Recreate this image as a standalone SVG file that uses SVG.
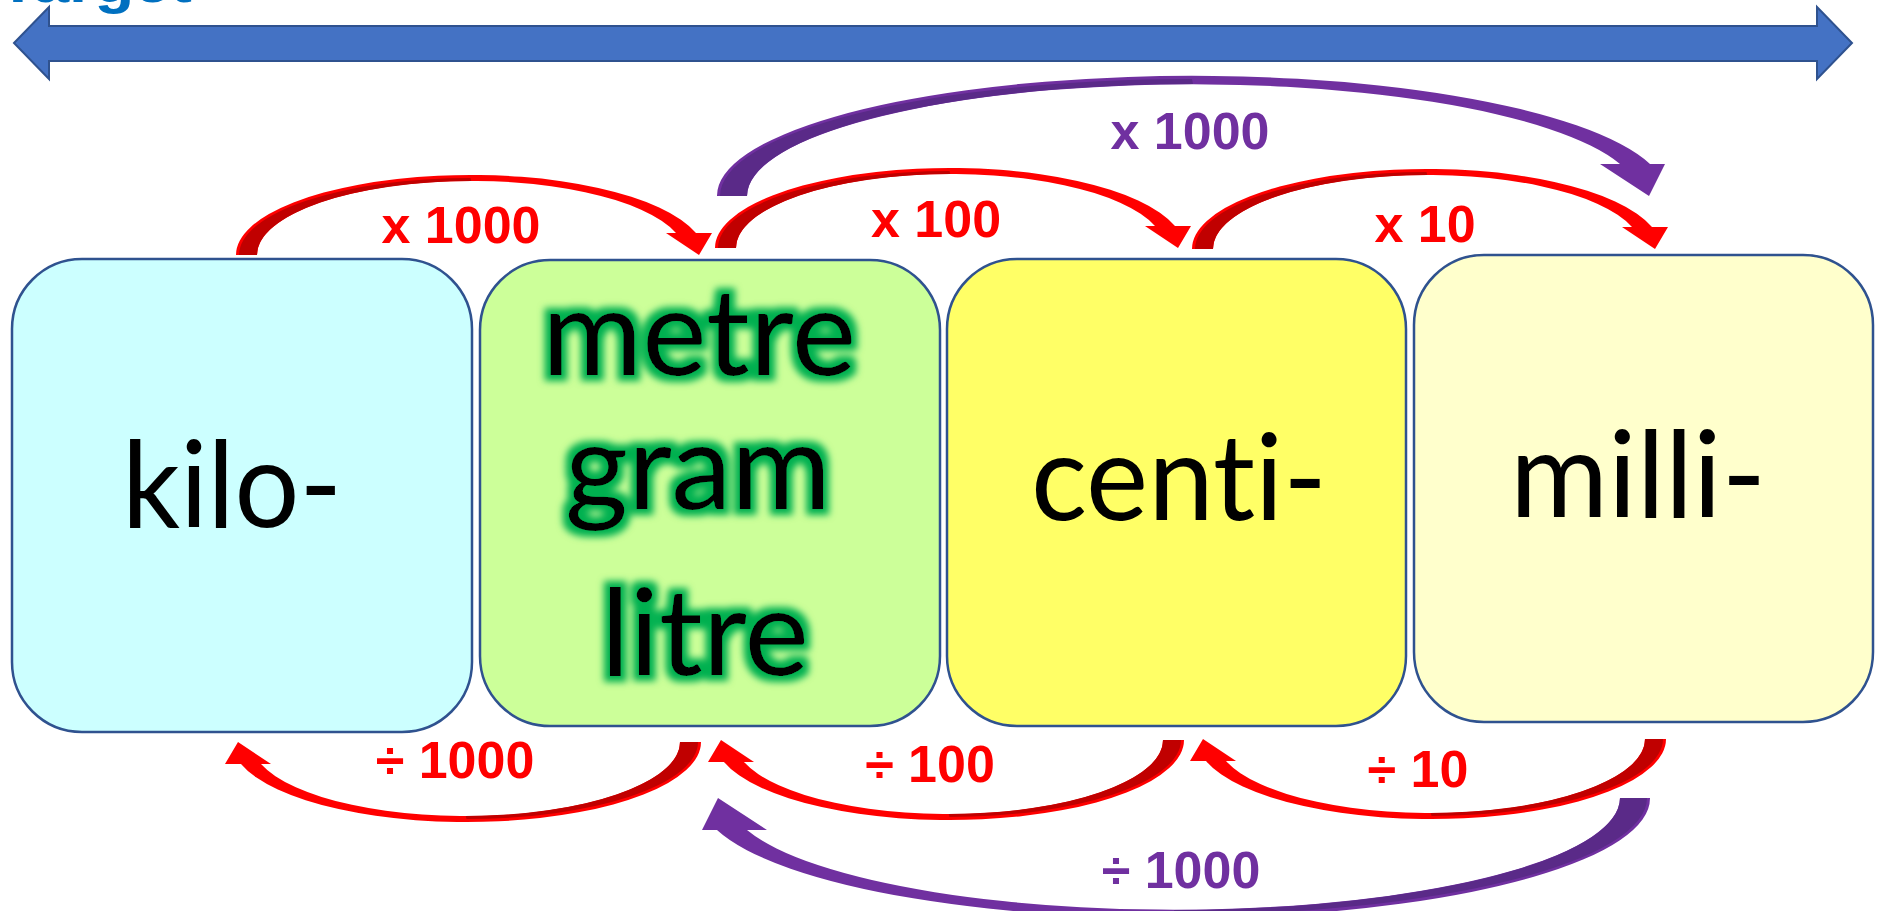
<svg xmlns="http://www.w3.org/2000/svg" width="1885" height="911" viewBox="0 0 1885 911">
  <style>
    .box { stroke: #2F528F; stroke-width: 2.5; }
    .big { font-family: Lato, "Open Sans", sans-serif; font-size: 120px; fill: #000; text-anchor: middle; font-variant-ligatures: none; font-feature-settings: "liga" 0; }
    .lbl { font-family: "Comic Sans MS", "Liberation Sans", Arial, sans-serif; font-weight: bold; font-size: 52px; text-anchor: middle; }
    .red { fill: #FF0000; }
    .redDark { fill: #C00000; }
    .pur { fill: #7030A0; }
    .purDark { fill: #5A2A88; }
  </style>
  <defs>
    <filter id="glow" x="-20%" y="-30%" width="140%" height="160%">
      <feMorphology in="SourceAlpha" operator="dilate" radius="6" result="d"/>
      <feGaussianBlur in="d" stdDeviation="3.5" result="b"/>
      <feFlood flood-color="#00B050" result="c"/>
      <feComposite in="c" in2="b" operator="in" result="g"/>
      <feMerge>
        <feMergeNode in="g"/>
        <feMergeNode in="SourceGraphic"/>
      </feMerge>
    </filter>
    <g id="redArrow">
      <path class="red" d="M0,0 A234.5,80 0 0 1 460,-22 L476,-22 L463,0 L430,-22 L440,-22 A214.3,74 0 0 0 21,0 Z"/>
      <path class="redDark" d="M3,0 A231.5,77 0 0 1 234.5,-77 L235.3,-74 A214.3,74 0 0 0 21,0 Z"/>
    </g>
    <g id="purArrow">
      <path class="pur" d="M0,0 A475,120 0 0 1 933,-32 L948,-32 L932,0 L883,-32 L903,-32 A446,112 0 0 0 30,0 Z"/>
      <path class="purDark" d="M3,0 A472,117 0 0 1 475,-117 L476,-112 A446,112 0 0 0 30,0 Z"/>
    </g>
  </defs>

  <rect width="1885" height="911" fill="#FFFFFF"/>

  <g id="title">
    <text x="-2" y="2" font-family="'Comic Sans MS', 'Liberation Sans', sans-serif" font-weight="bold" font-size="56" fill="#0070C0" textLength="194" lengthAdjust="spacingAndGlyphs">Target</text>
  </g>

  <g id="scale-arrow">
    <path d="M14,43 L49,7 L49,26 L1817,26 L1817,7 L1852,43 L1817,79 L1817,61 L49,61 L49,79 Z" fill="#4472C4" stroke="#2F528F" stroke-width="2"/>
  </g>

  <g id="node-kilo">
    <rect class="box" x="12" y="259" width="460" height="473" rx="70" ry="70" fill="#CCFFFF"/>
    <text class="big" x="232" y="527" textLength="220" lengthAdjust="spacingAndGlyphs">kilo-</text>
  </g>

  <g id="node-base">
    <rect class="box" x="480" y="260" width="460" height="466" rx="70" ry="70" fill="#CCFF99"/>
    <g filter="url(#glow)">
      <text class="big" x="699" y="375" textLength="314" lengthAdjust="spacingAndGlyphs">metre</text>
      <text class="big" x="698" y="509" textLength="266" lengthAdjust="spacingAndGlyphs">gram</text>
      <text class="big" x="705" y="675" textLength="208" lengthAdjust="spacingAndGlyphs">litre</text>
    </g>
  </g>

  <g id="node-centi">
    <rect class="box" x="947" y="259" width="459" height="467" rx="70" ry="70" fill="#FFFF66"/>
    <text class="big" x="1179" y="520" textLength="296" lengthAdjust="spacingAndGlyphs">centi-</text>
  </g>

  <g id="node-milli">
    <rect class="box" x="1414" y="255" width="459" height="467" rx="70" ry="70" fill="#FFFFCC"/>
    <text class="big" x="1638" y="517" textLength="256" lengthAdjust="spacingAndGlyphs">milli-</text>
  </g>

  <g id="connectors">
    <use href="#redArrow" transform="translate(236,255)"/>
    <use href="#redArrow" transform="translate(715,248)"/>
    <use href="#redArrow" transform="translate(1192,249)"/>
    <use href="#purArrow" transform="translate(717,196)"/>
    <use href="#redArrow" transform="translate(701,742) rotate(180)"/>
    <use href="#redArrow" transform="translate(1184,740) rotate(180)"/>
    <use href="#redArrow" transform="translate(1666,739) rotate(180)"/>
    <use href="#purArrow" transform="translate(1650,798) rotate(180)"/>
  </g>

  <g id="labels">
    <text class="lbl red" x="461" y="243">x 1000</text>
    <text class="lbl red" x="936" y="237">x 100</text>
    <text class="lbl red" x="1425" y="242">x 10</text>
    <text class="lbl pur" x="1190" y="149">x 1000</text>
    <text class="lbl red" x="455" y="778">÷ 1000</text>
    <text class="lbl red" x="930" y="782">÷ 100</text>
    <text class="lbl red" x="1418" y="787">÷ 10</text>
    <text class="lbl pur" x="1181" y="888">÷ 1000</text>
  </g>
</svg>
